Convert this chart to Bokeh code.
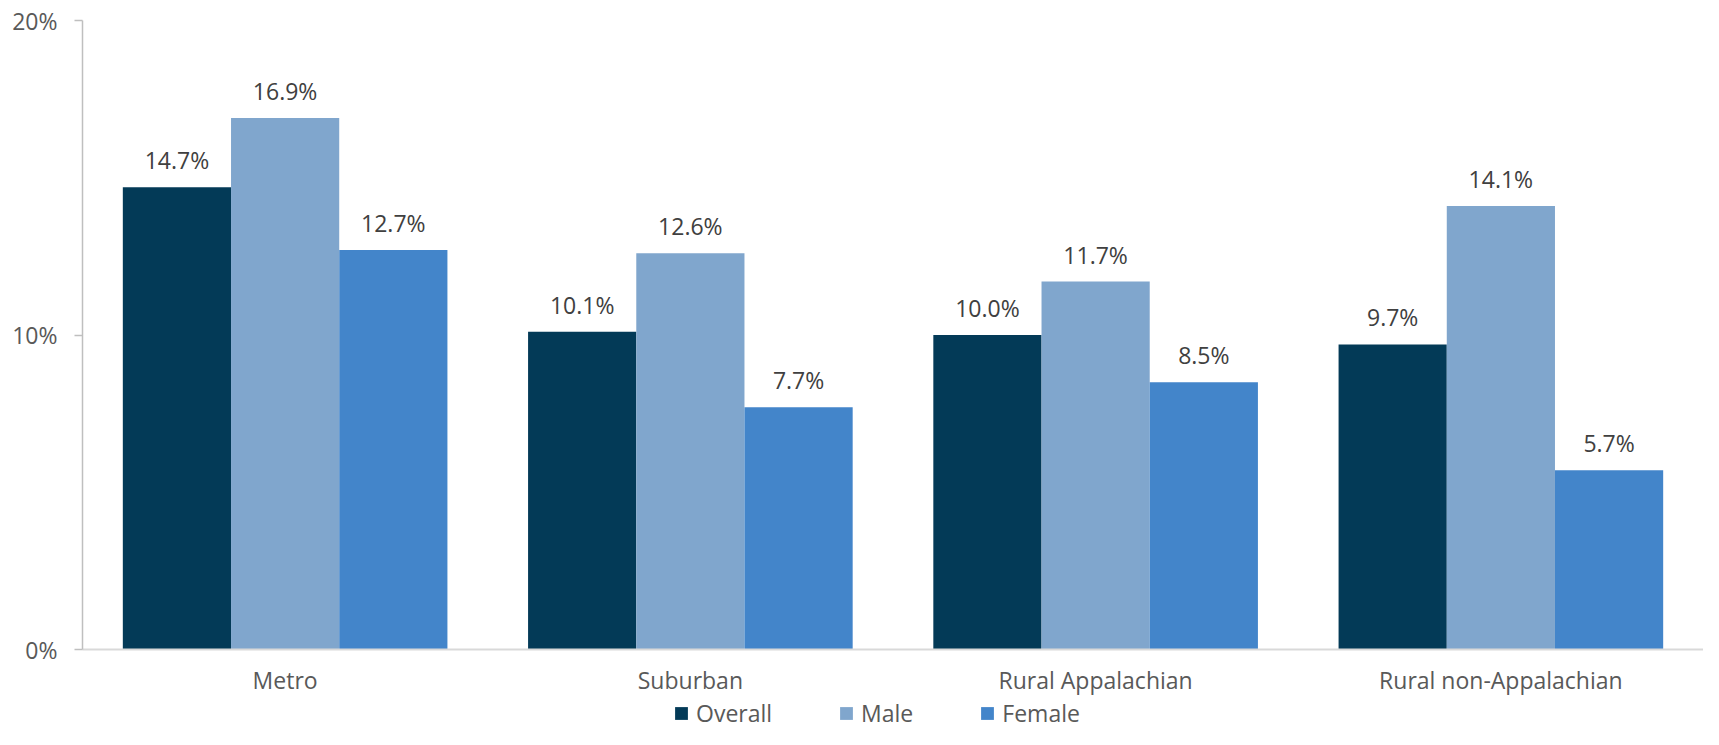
from bokeh.plotting import figure
from bokeh.layouts import column
from bokeh.models import FactorRange, Legend, LegendItem, FixedTicker, ColumnDataSource
from bokeh.transform import dodge
from bokeh.core.properties import value
from bokeh.embed import file_html
from bokeh.resources import INLINE

categories = ["Metro", "Suburban", "Rural Appalachian", "Rural non-Appalachian"]
series = ["Overall", "Male", "Female"]
overall = [14.7, 10.1, 10.0, 9.7]
male = [16.9, 12.6, 11.7, 14.1]
female = [12.7, 7.7, 8.5, 5.7]
y_ticks = [0, 10, 20]
y_tick_labels = ["0%", "10%", "20%"]
colors = ["#033A57", "#80A6CD", "#4385CA"]

FONT = "Open Sans"
FS = "23px"
W = 1703
H_MAIN, H_LEG = 698, 31

p = figure(x_range=FactorRange(*categories, range_padding=0), y_range=(0, 20),
           width=W, height=H_MAIN, output_backend="svg", toolbar_location=None,
           min_border_left=82, min_border_top=20, min_border_bottom=47, min_border_right=0)

bar_w = 0.267
offsets = [-bar_w, 0.0, bar_w]
for name, vals, col, off in zip(series, [overall, male, female], colors, offsets):
    src = ColumnDataSource(dict(cat=categories, val=vals, lab=[f"{v:.1f}%" for v in vals]))
    p.vbar(x=dodge("cat", off, range=p.x_range), top="val", width=bar_w, source=src,
           fill_color=col, line_color=None)
    p.text(x=dodge("cat", off, range=p.x_range), y="val", text="lab", source=src,
           text_align="center", text_baseline="alphabetic", y_offset=-27,
           text_font=value(FONT), text_font_size=FS, text_color="#404040")

p.xgrid.grid_line_color = None
p.ygrid.grid_line_color = None
p.outline_line_color = None

xa = p.xaxis[0]
xa.axis_line_color = "#D9D9D9"
xa.axis_line_width = 2
xa.major_tick_line_color = None
xa.minor_tick_line_color = None
xa.major_tick_out = 0
xa.major_label_text_font = FONT
xa.major_label_text_font_size = FS
xa.major_label_text_color = "#595959"
xa.major_label_standoff = 14

ya = p.yaxis[0]
ya.ticker = FixedTicker(ticks=y_ticks)
ya.major_label_overrides = {t: l for t, l in zip(y_ticks, y_tick_labels)}
ya.axis_line_color = "#BFBFBF"
ya.axis_line_width = 1.5
ya.major_tick_line_color = "#BFBFBF"
ya.major_tick_line_width = 1.5
ya.major_tick_out = 8
ya.major_tick_in = 0
ya.minor_tick_line_color = None
ya.major_label_text_font = FONT
ya.major_label_text_font_size = FS
ya.major_label_text_color = "#595959"
ya.major_label_standoff = 17

# legend strip (its frame is aligned with the main frame by the column layout)
lf = figure(width=W, height=H_LEG, x_range=(0, 1), y_range=(0, 1),
            output_backend="svg", toolbar_location=None, min_border=0,
            x_axis_type=None, y_axis_type=None)
lf.outline_line_color = None
lf.xgrid.grid_line_color = None
lf.ygrid.grid_line_color = None
leg_renderers = []
for name, col in zip(series, colors):
    r = lf.vbar(x=[5], top=[1], width=0.1, fill_color=col, line_color=None)
    leg_renderers.append(r)

legend = Legend(items=[LegendItem(label=s, renderers=[r]) for s, r in zip(series, leg_renderers)],
                orientation="horizontal", location=(591, 0),
                glyph_width=16, glyph_height=16, label_standoff=7, spacing=66,
                padding=0, margin=0, border_line_color=None, background_fill_alpha=0,
                label_text_font=FONT, label_text_font_size=FS, label_text_color="#595959")
lf.add_layout(legend, "center")

layout = column(p, lf, spacing=0)
open("out.html", "w").write(file_html(layout, INLINE))
